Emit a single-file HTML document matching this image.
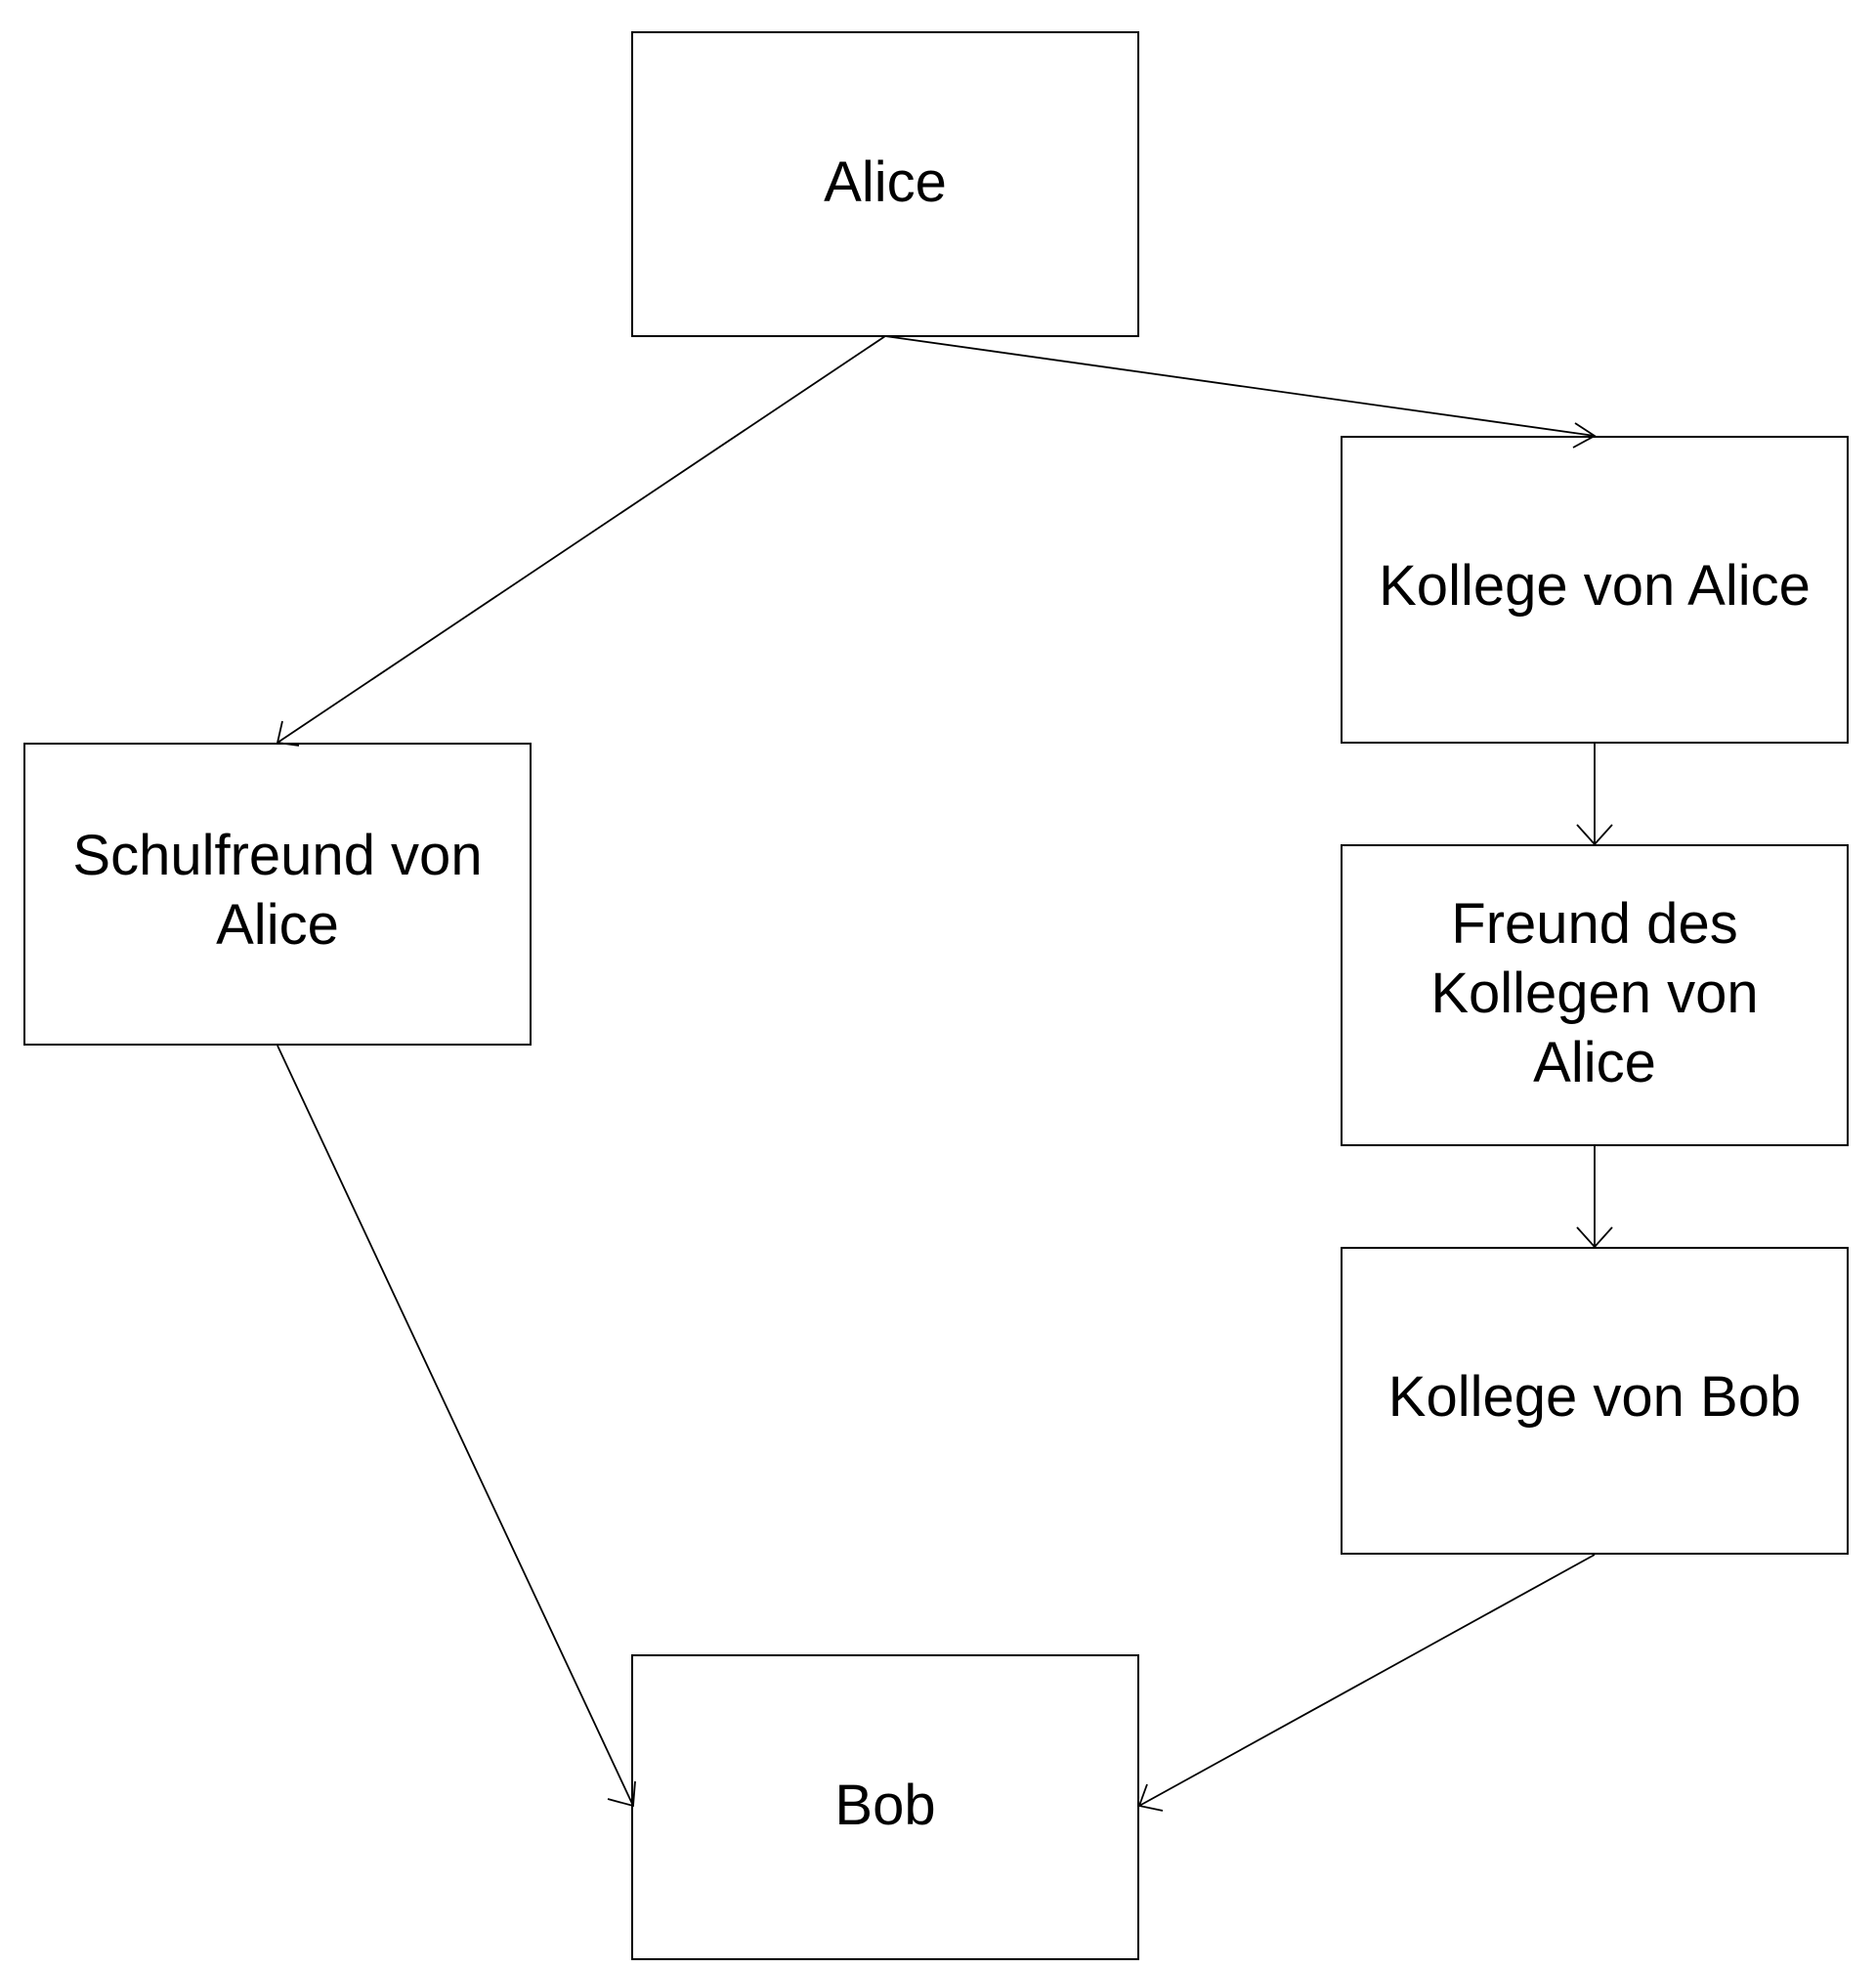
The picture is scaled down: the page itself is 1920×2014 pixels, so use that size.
<!DOCTYPE html>
<html><head><meta charset="utf-8"><style>
html,body{margin:0;padding:0;background:#fff}
body{width:1920px;height:2014px;position:relative;overflow:hidden;font-family:"Liberation Sans",Arial,sans-serif}
.b{position:absolute;border:2px solid #000;box-sizing:border-box;display:flex;align-items:center;justify-content:center;text-align:center;font-size:58px;line-height:71px;color:#000}
svg{position:absolute;left:0;top:0}
</style></head><body>
<div class="b" style="left:646px;top:32px;width:520px;height:313px;padding-bottom:4px">Alice</div>
<div class="b" style="left:1372px;top:446px;width:520px;height:315px;padding-bottom:8px">Kollege von Alice</div>
<div class="b" style="left:24px;top:760px;width:520px;height:310px;padding-bottom:8px">Schulfreund von<br>Alice</div>
<div class="b" style="left:1372px;top:864px;width:520px;height:309px;padding-bottom:4px">Freund des<br>Kollegen von<br>Alice</div>
<div class="b" style="left:1372px;top:1276px;width:520px;height:315px;padding-bottom:8px">Kollege von Bob</div>
<div class="b" style="left:646px;top:1693px;width:520px;height:313px;padding-bottom:4px">Bob</div>
<svg width="1920" height="2014" viewBox="0 0 1920 2014" fill="none" stroke="#000" stroke-width="1.8">
<line x1="906" y1="344" x2="1632" y2="446"/>
<polyline points="1612,433 1632,446 1610,458"/>
<line x1="906" y1="344" x2="284" y2="760"/>
<polyline points="289,738 284,760 306,763"/>
<line x1="284" y1="1070" x2="648" y2="1848"/>
<polyline points="622,1841 648,1848 650,1823"/>
<line x1="1632" y1="1591" x2="1166" y2="1848"/>
<polyline points="1174,1826 1166,1848 1190,1853"/>
<line x1="1632" y1="761" x2="1632" y2="864"/>
<polyline points="1614,844 1632,864 1650,844"/>
<line x1="1632" y1="1173" x2="1632" y2="1276"/>
<polyline points="1614,1256 1632,1276 1650,1256"/>
</svg>
</body></html>
